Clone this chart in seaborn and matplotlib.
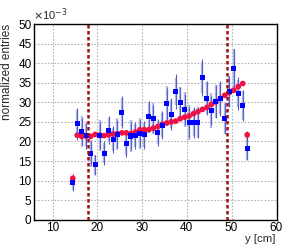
import numpy as np
import pandas as pd
import matplotlib
matplotlib.use("Agg")
import matplotlib.pyplot as plt
import seaborn as sns

# ---- data (values in units of 1e-3) ----
y_cm = [14.5, 15.5, 16.5, 17.5, 18.5, 19.5, 20.5, 21.5, 22.5, 23.5,
        24.5, 25.5, 26.5, 27.5, 28.5, 29.5, 30.5, 31.5, 32.5, 33.5,
        34.5, 35.5, 36.5, 37.5, 38.5, 39.5, 40.5, 41.5, 42.5, 43.5,
        44.5, 45.5, 46.5, 47.5, 48.5, 49.5, 50.5, 51.5, 52.5, 53.5]

red_vals = [10.6, 21.6, 21.3, 21.4, 21.3, 21.8, 21.6, 21.5, 21.7, 21.9,
            22.0, 22.2, 22.2, 22.0, 22.4, 23.0, 23.0, 23.0, 23.4, 23.8,
            24.4, 24.7, 25.0, 25.2, 25.8, 26.2, 26.5, 27.1, 27.6, 28.2,
            28.7, 29.5, 30.1, 31.0, 31.8, 32.5, 33.1, 34.0, 34.8, 21.7]

blue_vals = [9.4, 24.5, 22.5, 21.5, 17.0, 14.0, 21.5, 17.0, 22.9, 20.5,
             21.9, 27.5, 19.5, 21.4, 21.5, 22.0, 21.7, 26.4, 25.8, 22.3,
             24.2, 29.6, 27.0, 32.7, 29.9, 28.1, 24.9, 24.9, 24.8, 36.4,
             31.1, 27.9, 30.3, 31.0, 25.9, 32.7, 38.7, 32.3, 29.2, 18.3]

blue_err_stat = [2.0, 4.0, 3.5, 3.5, 3.0, 2.5, 3.5, 3.0, 3.5, 3.5,
                 3.5, 4.0, 3.5, 3.5, 3.5, 3.5, 3.5, 4.0, 3.6, 3.5,
                 3.5, 4.0, 4.0, 4.5, 4.0, 4.0, 4.0, 4.0, 4.0, 4.7,
                 4.4, 3.7, 4.2, 4.4, 4.0, 4.0, 4.8, 4.2, 4.0, 3.0]

blue_err_sys = [1.8, 3.5, 4.0, 3.0, 3.5, 2.5, 4.0, 2.5, 3.0, 3.0,
                4.0, 3.5, 3.0, 4.0, 3.0, 4.0, 3.0, 3.5, 4.0, 3.0,
                3.0, 4.5, 3.5, 3.5, 4.0, 4.5, 4.5, 3.5, 4.0, 4.0,
                4.0, 4.5, 4.2, 4.0, 4.0, 4.0, 5.0, 3.5, 3.8, 3.0]

red_err = [1.0, 0.4, 0.4, 0.4, 0.4, 0.4, 0.4, 0.4, 0.4, 0.4,
           0.4, 0.4, 0.4, 0.4, 0.4, 0.4, 0.4, 0.4, 0.4, 0.4,
           0.4, 0.4, 0.4, 0.4, 0.4, 0.4, 0.4, 0.4, 0.4, 0.4,
           0.4, 0.4, 0.4, 0.4, 0.4, 0.4, 0.4, 0.4, 0.4, 1.0]

cut_lines = [18.0, 49.0]
x_ticks = [10, 20, 30, 40, 50, 60]
y_ticks = [0, 5, 10, 15, 20, 25, 30, 35, 40, 45, 50]

df_blue = pd.DataFrame({"y": y_cm, "v": blue_vals})
df_red = pd.DataFrame({"y": y_cm, "v": red_vals})

sns.set_style("white")
plt.rcParams["font.family"] = ["Liberation Sans", "DejaVu Sans"]

fig = plt.figure(figsize=(3.07, 2.45), dpi=100)
ax = fig.add_axes([34.3 / 307, 1 - 219.8 / 245, (276.7 - 34.3) / 307, (219.8 - 24) / 245])

# grid
for gx in x_ticks[:-1]:
    ax.axvline(gx, color="#b4b4b4", lw=0.8, ls=(0, (1.5, 1.5)), zorder=0)
for gy in y_ticks[1:-1]:
    ax.axhline(gy, color="#b4b4b4", lw=0.8, ls=(0, (1.5, 1.5)), zorder=0)

# blue error bars (light wide + dark thin)
ax.errorbar(y_cm, blue_vals, yerr=blue_err_sys, fmt="none", ecolor="#b3b8e8",
            elinewidth=1.7, capsize=0, zorder=1)
ax.errorbar(y_cm, blue_vals, yerr=blue_err_stat, fmt="none", ecolor="#5560c8",
            elinewidth=0.8, capsize=0, zorder=2)
ax.errorbar(y_cm, red_vals, yerr=red_err, fmt="none", ecolor="#ee1144",
            elinewidth=0.8, capsize=0, zorder=2)

sns.scatterplot(data=df_red, x="y", y="v", ax=ax, marker="o", s=17,
                color="#ee1144", edgecolor="none", zorder=3)
sns.scatterplot(data=df_blue, x="y", y="v", ax=ax, marker="s", s=13,
                color="#0000ff", edgecolor="none", zorder=4)

for cx in cut_lines:
    ax.axvline(cx, color="#a01010", lw=1.8, ls=(0, (1.4, 1.0)), zorder=5)

ax.set_xlim(5.9, 60.1)
ax.set_ylim(0, 50)
ax.set_xticks(x_ticks)
ax.set_yticks(y_ticks)
ax.set_xticks(np.arange(6, 61, 2), minor=True)
ax.set_yticks(np.arange(0, 51, 1), minor=True)
ax.tick_params(axis="both", which="major", direction="in", length=6, width=0.8,
               labelsize=8.5, colors="black")
ax.tick_params(axis="x", which="major", pad=1.5)
ax.tick_params(axis="y", which="major", pad=2)
ax.tick_params(axis="both", which="minor", direction="in", length=3, width=0.8)
ax.tick_params(top=False, right=False)
for sp in ax.spines.values():
    sp.set_color("black")
    sp.set_linewidth(1.0)

ax.set_xlabel("")
ax.set_ylabel("normalized entries", fontsize=8.5, loc="top", labelpad=4)
fig.text(275 / 307, 1 - 241.5 / 245, "y [cm]", fontsize=8.2, ha="right", va="baseline")
fig.text(33 / 307, 1 - 20 / 245, r"$\times$10$^{-3}$", fontsize=8, va="baseline", ha="left")

fig.savefig("out.png", dpi=100)
